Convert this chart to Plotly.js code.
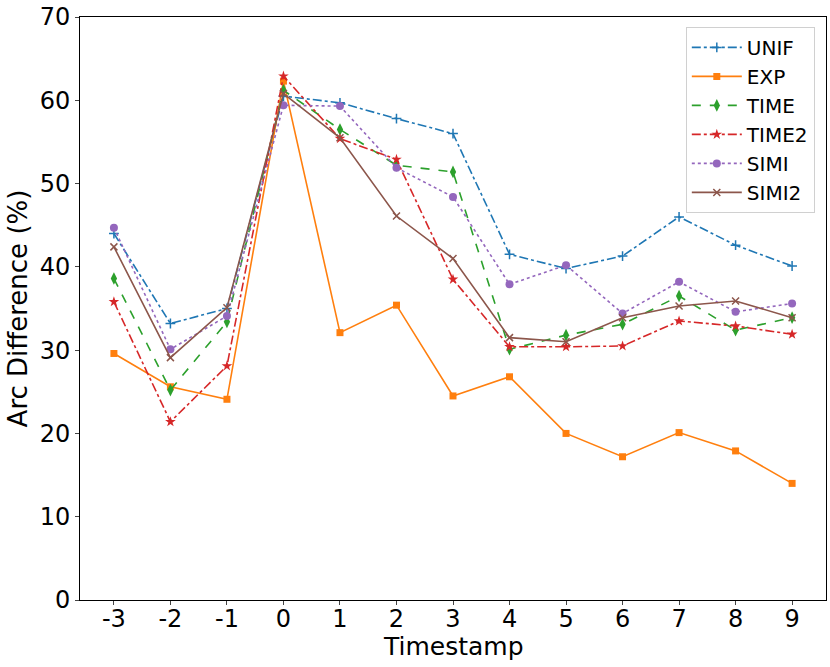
<!DOCTYPE html>
<html>
<head>
<meta charset="utf-8">
<script src="https://cdn.plot.ly/plotly-3.0.1.min.js"></script>
<style>
  body { margin: 0; background: #fff; }
  #chart { width: 830px; height: 667px; }
</style>
</head>
<body>
<div id="chart"></div>
<script>
// Arc difference per timestamp

var timestamps = [-3, -2, -1, 0, 1, 2, 3, 4, 5, 6, 7, 8, 9];
var tickLabels = ['-3', '-2', '-1', '0', '1', '2', '3', '4', '5', '6', '7', '8', '9'];

var unif  = [44.0, 33.2, 35.0, 60.5, 59.7, 57.8, 56.0, 41.5, 39.8, 41.3, 46.0, 42.6, 40.1];
var exp   = [29.6, 25.6, 24.1, 62.3, 32.1, 35.4, 24.5, 26.8, 20.0, 17.2, 20.1, 17.9, 14.0];
var time1 = [38.6, 25.2, 33.4, 61.2, 56.5, 52.2, 51.4, 30.1, 31.8, 33.1, 36.5, 32.4, 33.9];
var time2 = [35.8, 21.4, 28.1, 62.9, 55.4, 52.9, 38.5, 30.4, 30.4, 30.5, 33.5, 32.9, 31.9];
var simi  = [44.7, 30.1, 34.1, 59.4, 59.3, 51.9, 48.4, 37.9, 40.2, 34.4, 38.2, 34.6, 35.6];
var simi2 = [42.4, 29.1, 35.1, 60.8, 55.5, 46.1, 41.0, 31.5, 31.0, 33.9, 35.3, 35.9, 33.9];

var seriesNames = ['UNIF', 'EXP', 'TIME', 'TIME2', 'SIMI', 'SIMI2'];

function line(name, y, color, dash, symbol, size, open) {
  return {
    x: timestamps,
    y: y,
    name: name,
    type: 'scatter',
    mode: 'lines+markers',
    line: { color: color, width: 1.6, dash: dash },
    marker: {
      symbol: symbol,
      size: size,
      color: color,
      line: { color: color, width: open ? 1.5 : 0 }
    }
  };
}

var data = [
  line(seriesNames[0], unif,  '#1f77b4', 'dashdot', 'cross-thin', 7, true),
  line(seriesNames[1], exp,   '#ff7f0e', 'solid',   'square', 7, false),
  line(seriesNames[2], time1, '#2ca02c', 'dash',    'diamond-tall', 9, false),
  line(seriesNames[3], time2, '#d62728', 'dashdot', 'star', 8, false),
  line(seriesNames[4], simi,  '#9467bd', 'dot',     'circle', 8, false),
  line(seriesNames[5], simi2, '#8c564b', 'solid',   'x-thin', 7, true)
];

var layout = {
  width: 830,
  height: 667,
  font: { family: 'DejaVu Sans', size: 24, color: '#000000' },
  paper_bgcolor: '#ffffff',
  plot_bgcolor: '#ffffff',
  showlegend: true,
  margin: { l: 80, r: 4, t: 17, b: 67 },
  xaxis: {
    range: [-3.6, 9.6],
    tickvals: timestamps,
    ticktext: tickLabels,
    ticks: 'outside',
    ticklen: 4,
    ticklabelstandoff: -7,
    showgrid: false,
    zeroline: false,
    showline: true,
    mirror: true,
    linecolor: '#000000',
    linewidth: 1
  },
  yaxis: {
    range: [0, 70],
    dtick: 10,
    ticks: 'outside',
    ticklen: 4,
    showgrid: false,
    zeroline: false,
    showline: true,
    mirror: true,
    linecolor: '#000000',
    linewidth: 1,
    title: { text: 'Arc Difference (%)', font: { size: 26 }, standoff: 4 }
  },
  // x title as annotation so it sits closer to the tick labels
  annotations: [{
    text: 'Timestamp',
    xref: 'paper',
    yref: 'paper',
    x: 0.5,
    y: -0.08,
    xanchor: 'center',
    yanchor: 'middle',
    showarrow: false,
    font: { size: 25 }
  }],
  legend: {
    x: 0.985,
    y: 0.983,
    xanchor: 'right',
    yanchor: 'top',
    bgcolor: 'rgba(255,255,255,0.8)',
    bordercolor: '#d0d0d0',
    borderwidth: 1,
    font: { size: 20 },
    itemwidth: 50,
    tracegroupgap: 0
  }
};

Plotly.newPlot('chart', data, layout, { displayModeBar: false });
</script>
</body>
</html>
